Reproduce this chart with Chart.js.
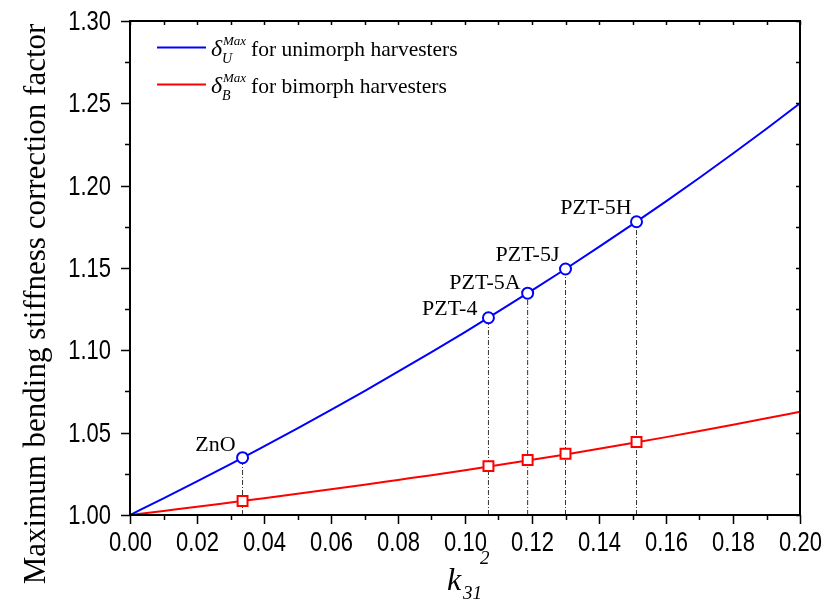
<!DOCTYPE html>
<html>
<head>
<meta charset="utf-8">
<script src="https://cdn.jsdelivr.net/npm/chart.js@4.4.1/dist/chart.umd.min.js"></script>
<style>
  body { margin: 0; background: #fff; }
  #wrap { width: 822px; height: 602px; }
</style>
</head>
<body>
<div id="wrap"><canvas id="chart"></canvas></div>
<script>
// curve samples (k31^2 -> factor)
const k2Grid = [0, 0.01, 0.02, 0.03, 0.04, 0.05, 0.06, 0.07, 0.08, 0.09, 0.10,
                0.11, 0.12, 0.13, 0.14, 0.15, 0.16, 0.17, 0.18, 0.19, 0.20];
const unimorphCurve = [1.0000, 1.0101, 1.0204, 1.0309, 1.0417, 1.0526, 1.0638, 1.0753, 1.0870, 1.0989, 1.1111,
                       1.1236, 1.1364, 1.1494, 1.1628, 1.1765, 1.1905, 1.2048, 1.2195, 1.2346, 1.2500];
const bimorphCurve = [1.0000, 1.0025, 1.0050, 1.0076, 1.0102, 1.0129, 1.0156, 1.0184, 1.0213, 1.0242, 1.0272,
                      1.0303, 1.0335, 1.0368, 1.0402, 1.0437, 1.0473, 1.0510, 1.0548, 1.0587, 1.0627];

// marked materials
const materials = ['ZnO', 'PZT-4', 'PZT-5A', 'PZT-5J', 'PZT-5H'];
const materialK2 = [0.0336, 0.107, 0.1187, 0.130, 0.1512];
const unimorphAtMaterial = [1.0348, 1.1198, 1.1347, 1.1494, 1.1781];
const bimorphAtMaterial = [1.0085, 1.0297, 1.0334, 1.0372, 1.0443];

// axis ticks
const xTicks = [0, 0.02, 0.04, 0.06, 0.08, 0.10, 0.12, 0.14, 0.16, 0.18, 0.20];
const yTicks = [1.00, 1.05, 1.10, 1.15, 1.20, 1.25, 1.30];

// label offsets from the circle marker (px): right edge dx, middle dy
const labelOffsets = [[-7, -12], [-11, -9], [-7, -10], [-6, -14], [-5, -14]];

const pts = (xs, ys) => xs.map((x, i) => ({ x: x, y: ys[i] }));

// vertical dash-dot drop lines, one dataset per material
const dropSets = materialK2.map((k, i) => ({
    data: [{ x: k, y: 1.0 }, { x: k, y: unimorphAtMaterial[i] }],
    borderColor: '#333',
    borderWidth: 1,
    borderDash: [5, 2, 1, 2],
    pointRadius: 0,
    order: 10
}));

const SERIF = '"Liberation Serif", "Times New Roman", serif';
const SANS = '"Liberation Sans", Arial, sans-serif';

function txt(ctx, s, x, y, font, align, base) {
    ctx.font = font;
    ctx.textAlign = align || 'left';
    ctx.textBaseline = base || 'alphabetic';
    ctx.fillText(s, x, y);
}

// tick labels in the reference are a tall sans, so stretch vertically
function tallTxt(ctx, s, x, y, align, base) {
    ctx.save();
    ctx.translate(x, y);
    ctx.scale(1, 1.25);
    txt(ctx, s, 0, 0, '22px ' + SANS, align, base);
    ctx.restore();
}

const framePlugin = {
    id: 'frame',
    afterDraw(chart) {
        const ctx = chart.ctx;
        const xs = chart.scales.x, ys = chart.scales.y;
        const a = chart.chartArea;
        ctx.save();
        ctx.strokeStyle = '#000';
        ctx.fillStyle = '#000';

        // box
        ctx.lineWidth = 2;
        ctx.strokeRect(a.left, a.top, a.right - a.left, a.bottom - a.top);

        // x ticks, major + minor halfway
        ctx.lineWidth = 1.5;
        xTicks.forEach((v, i) => {
            const p = Math.round(xs.getPixelForValue(v)) + 0.5;
            ctx.beginPath();
            ctx.moveTo(p, a.bottom); ctx.lineTo(p, a.bottom + 9);
            ctx.moveTo(p, a.top); ctx.lineTo(p, a.top + 4);
            if (i < xTicks.length - 1) {
                const m = Math.round(xs.getPixelForValue((v + xTicks[i + 1]) / 2)) + 0.5;
                ctx.moveTo(m, a.bottom); ctx.lineTo(m, a.bottom + 5);
                ctx.moveTo(m, a.top); ctx.lineTo(m, a.top + 4);
            }
            ctx.stroke();
            tallTxt(ctx, v.toFixed(2), p, a.bottom + 15, 'center', 'top');
        });

        // y ticks
        yTicks.forEach((v, i) => {
            const p = Math.round(ys.getPixelForValue(v)) + 0.5;
            ctx.beginPath();
            ctx.moveTo(a.left, p); ctx.lineTo(a.left - 9, p);
            ctx.moveTo(a.right, p); ctx.lineTo(a.right - 4, p);
            if (i < yTicks.length - 1) {
                const m = Math.round(ys.getPixelForValue((v + yTicks[i + 1]) / 2)) + 0.5;
                ctx.moveTo(a.left, m); ctx.lineTo(a.left - 5, m);
                ctx.moveTo(a.right, m); ctx.lineTo(a.right - 4, m);
            }
            ctx.stroke();
            tallTxt(ctx, v.toFixed(2), a.left - 19, p + 1, 'right', 'middle');
        });

        // axis titles
        ctx.save();
        ctx.translate(35, (a.top + a.bottom) / 2 + 36);
        ctx.rotate(-Math.PI / 2);
        txt(ctx, 'Maximum bending stiffness correction factor', 0, 10, '31px ' + SERIF, 'center', 'alphabetic');
        ctx.restore();

        txt(ctx, 'k', 447, 590, 'italic 32px ' + SERIF);
        txt(ctx, '31', 463, 599, 'italic 19px ' + SERIF);
        txt(ctx, '2', 480, 564, 'italic 19px ' + SERIF);

        // material labels next to the circles
        materials.forEach((name, i) => {
            const px = xs.getPixelForValue(materialK2[i]);
            const py = ys.getPixelForValue(unimorphAtMaterial[i]);
            txt(ctx, name, px + labelOffsets[i][0], py + labelOffsets[i][1], '22px ' + SERIF, 'right', 'middle');
        });

        // legend with delta symbols
        const rows = [
            { color: '#0000ff', sub: 'U', text: 'for unimorph harvesters', y: 47.5 },
            { color: '#ff0000', sub: 'B', text: 'for bimorph harvesters', y: 84.5 }
        ];
        rows.forEach(r => {
            ctx.strokeStyle = r.color;
            ctx.lineWidth = 2;
            ctx.beginPath();
            ctx.moveTo(157, r.y); ctx.lineTo(206, r.y);
            ctx.stroke();
            ctx.fillStyle = '#000';
            txt(ctx, 'δ', 211, r.y + 8.5, 'italic 24px ' + SERIF);
            txt(ctx, 'Max', 223, r.y - 3, 'italic 13px ' + SERIF);
            txt(ctx, r.sub, 222, r.y + 15.5, 'italic 14px ' + SERIF);
            txt(ctx, r.text, 251, r.y + 8.5, '21.5px ' + SERIF);
        });

        ctx.restore();
    }
};

const chart = document.getElementById('chart').getContext('2d');
new Chart(chart, {
    type: 'line',
    data: {
        datasets: [
            {
                label: 'unimorph',
                data: pts(k2Grid, unimorphCurve),
                borderColor: '#0000ff',
                borderWidth: 2,
                pointRadius: 0,
                cubicInterpolationMode: 'monotone',
                order: 5
            },
            {
                label: 'bimorph',
                data: pts(k2Grid, bimorphCurve),
                borderColor: '#ff0000',
                borderWidth: 2,
                pointRadius: 0,
                cubicInterpolationMode: 'monotone',
                order: 5
            },
            {
                label: 'unimorph materials',
                data: pts(materialK2, unimorphAtMaterial),
                showLine: false,
                pointStyle: 'circle',
                pointRadius: 5.5,
                pointBorderWidth: 2,
                pointBorderColor: '#0000ff',
                pointBackgroundColor: '#fff',
                order: 1
            },
            {
                label: 'bimorph materials',
                data: pts(materialK2, bimorphAtMaterial),
                showLine: false,
                pointStyle: 'rect',
                pointRadius: 7,
                pointBorderWidth: 2,
                pointBorderColor: '#ff0000',
                pointBackgroundColor: '#fff',
                order: 1
            },
            ...dropSets
        ]
    },
    options: {
        responsive: true,
        maintainAspectRatio: false,
        animation: false,
        layout: { padding: { left: 130, top: 21, right: 22, bottom: 87 } },
        plugins: {
            legend: { display: false },
            tooltip: { enabled: false }
        },
        scales: {
            x: { type: 'linear', min: 0, max: 0.2, display: false },
            y: { type: 'linear', min: 1.0, max: 1.3, display: false }
        }
    },
    plugins: [framePlugin]
});
</script>
</body>
</html>
